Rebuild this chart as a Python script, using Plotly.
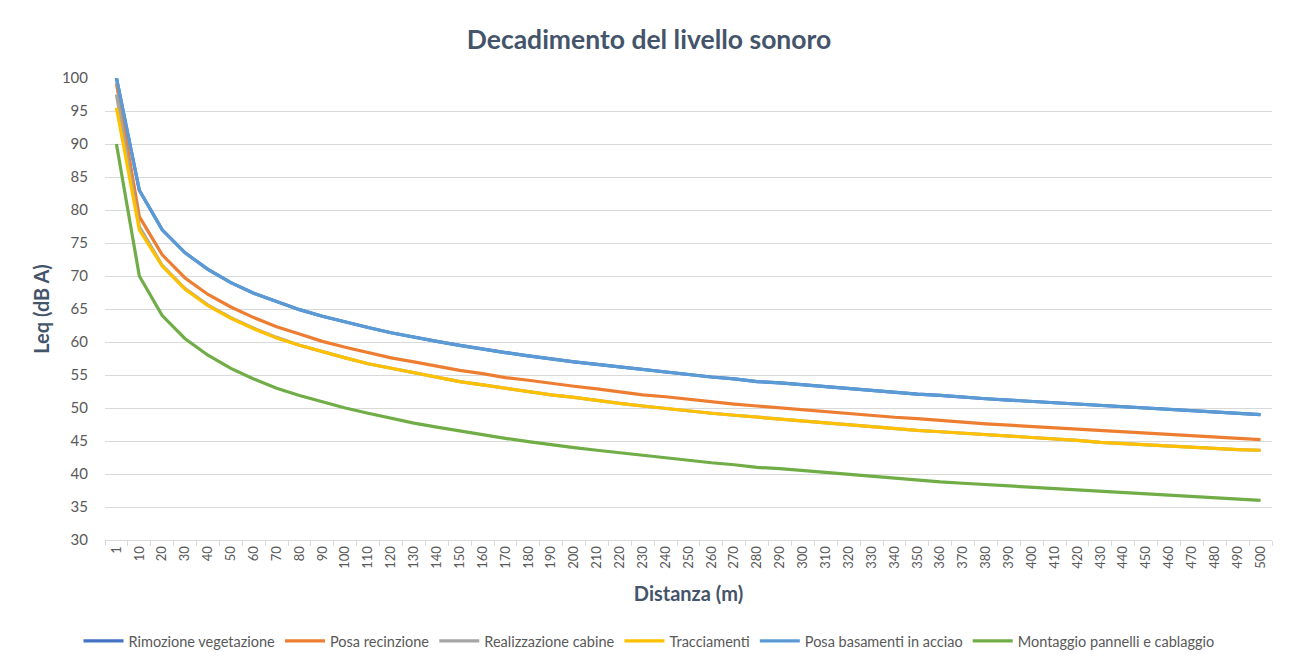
import plotly.graph_objects as go

distances = ["1"] + [str(d) for d in range(10, 501, 10)]

rimozione = [100.0, 83.0, 77.0, 73.5, 71.0, 69.0, 67.4, 66.1, 64.9, 63.9, 63.0, 62.2, 61.4, 60.7, 60.1, 59.5, 58.9, 58.4, 57.9, 57.4, 57.0,
             56.6, 56.2, 55.8, 55.4, 55.0, 54.7, 54.4, 54.0, 53.8, 53.5, 53.2, 52.9, 52.6, 52.3, 52.1, 51.9, 51.6, 51.4, 51.2, 51.0,
             50.8, 50.5, 50.3, 50.1, 49.9, 49.8, 49.6, 49.4, 49.2, 49.0]
posa_recinzione = [99.2, 79.0, 73.2, 69.7, 67.2, 65.3, 63.7, 62.3, 61.2, 60.1, 59.2, 58.4, 57.6, 57.0, 56.3, 55.7, 55.2, 54.6, 54.2, 53.7, 53.3,
                   52.9, 52.4, 52.0, 51.7, 51.3, 51.0, 50.6, 50.3, 50.0, 49.7, 49.4, 49.2, 48.9, 48.6, 48.4, 48.1, 47.9, 47.6, 47.4, 47.2,
                   47.0, 46.8, 46.6, 46.4, 46.2, 46.0, 45.8, 45.6, 45.4, 45.2]
realizzazione_cabine = [97.5, 77.5, 71.6, 68.1, 65.6, 63.7, 62.1, 60.7, 59.5, 58.5, 57.6, 56.7, 56.0, 55.3, 54.6, 54.0, 53.5, 53.0, 52.4, 52.0, 51.6,
                        51.1, 50.7, 50.3, 49.9, 49.6, 49.2, 48.9, 48.6, 48.3, 48.0, 47.7, 47.4, 47.2, 46.9, 46.6, 46.4, 46.2, 46.0, 45.7, 45.5,
                        45.3, 45.1, 44.8, 44.6, 44.5, 44.3, 44.1, 43.9, 43.7, 43.6]
tracciamenti = [95.5, 77.0, 71.5, 68.0, 65.5, 63.6, 62.0, 60.6, 59.5, 58.5, 57.6, 56.7, 56.0, 55.3, 54.6, 54.0, 53.5, 53.0, 52.4, 52.0, 51.6,
                51.1, 50.7, 50.3, 49.9, 49.6, 49.2, 48.9, 48.6, 48.3, 48.0, 47.7, 47.4, 47.2, 46.9, 46.6, 46.4, 46.2, 46.0, 45.7, 45.5,
                45.3, 45.1, 44.8, 44.6, 44.5, 44.3, 44.1, 43.9, 43.7, 43.6]
posa_basamenti = [100.0, 83.0, 77.0, 73.5, 71.0, 69.0, 67.4, 66.1, 64.9, 63.9, 63.0, 62.2, 61.4, 60.7, 60.1, 59.5, 58.9, 58.4, 57.9, 57.4, 57.0,
                  56.6, 56.2, 55.8, 55.4, 55.0, 54.7, 54.4, 54.0, 53.8, 53.5, 53.2, 52.9, 52.6, 52.3, 52.1, 51.9, 51.6, 51.4, 51.2, 51.0,
                  50.8, 50.5, 50.3, 50.1, 49.9, 49.8, 49.6, 49.4, 49.2, 49.0]
montaggio = [90.0, 70.0, 64.0, 60.5, 58.0, 56.0, 54.4, 53.0, 51.9, 50.9, 50.0, 49.2, 48.4, 47.7, 47.1, 46.5, 45.9, 45.4, 44.9, 44.4, 44.0,
             43.6, 43.2, 42.8, 42.4, 42.0, 41.7, 41.4, 41.0, 40.8, 40.5, 40.2, 39.9, 39.6, 39.3, 39.1, 38.8, 38.6, 38.4, 38.2, 38.0,
             37.8, 37.5, 37.3, 37.1, 36.9, 36.8, 36.6, 36.4, 36.2, 36.0]

series = [
    ("Rimozione vegetazione", rimozione, "#4472C4"),
    ("Posa recinzione", posa_recinzione, "#ED7D31"),
    ("Realizzazione cabine", realizzazione_cabine, "#A5A5A5"),
    ("Tracciamenti", tracciamenti, "#FFC000"),
    ("Posa basamenti in acciao", posa_basamenti, "#5B9BD5"),
    ("Montaggio pannelli e cablaggio", montaggio, "#70AD47"),
]

idx = list(range(len(distances)))
fig = go.Figure()
for name, vals, col in series:
    fig.add_trace(go.Scatter(x=idx, y=vals, mode="lines", name=name,
                             line=dict(color=col, width=3.2)))

font_fam = "Lato, 'Open Sans', sans-serif"
txt = "#44546A"
fig.update_layout(
    width=1282, height=655,
    margin=dict(l=97, r=18, t=70, b=123, autoexpand=False),
    paper_bgcolor="white", plot_bgcolor="white",
    font=dict(family=font_fam, color="#595959"),
    title=dict(text="<b>Decadimento del livello sonoro</b>", x=0.5, xanchor="center",
               xref="container", yref="container",
               y=0.951, yanchor="middle", font=dict(size=26.5, color=txt, family=font_fam)),
    showlegend=True,
    legend=dict(orientation="h", x=0.5, xanchor="center", xref="container", yref="container",
                y=0.0336, yanchor="middle", itemwidth=40,
                font=dict(size=14.5, color="#595959"), traceorder="normal"),
    xaxis=dict(range=[-0.5, len(distances) - 0.5], tickmode="array", tickvals=idx, ticktext=distances,
               tickangle=-90, tickfont=dict(size=13, color="#595959"), showgrid=False,
               showline=True, linecolor="#D9D9D9", linewidth=1, ticks="", automargin=False,
               minor=dict(tickmode="array", tickvals=[i - 0.5 for i in range(len(distances) + 1)],
                          ticks="outside", ticklen=5, tickcolor="#D9D9D9"),
               zeroline=False,
               title=dict(text="<b>Distanza (m)</b>", font=dict(size=20, color=txt), standoff=19)),
    yaxis=dict(range=[30, 100], dtick=5, tick0=30, showgrid=True, gridcolor="#D9D9D9", gridwidth=1,
               tickfont=dict(size=15, color="#595959"), zeroline=False, ticks="", ticklabelstandoff=16,
               automargin=False,
               title=dict(text="<b>Leq (dB A)</b>", font=dict(size=20, color=txt), standoff=6)),
)
fig.add_shape(type="rect", xref="paper", yref="paper", x0=-0.0848, x1=1.2, y0=-0.5, y1=1.1537,
              line=dict(color="#D9D9D9", width=1), layer="below")
fig.write_html("out.html")
